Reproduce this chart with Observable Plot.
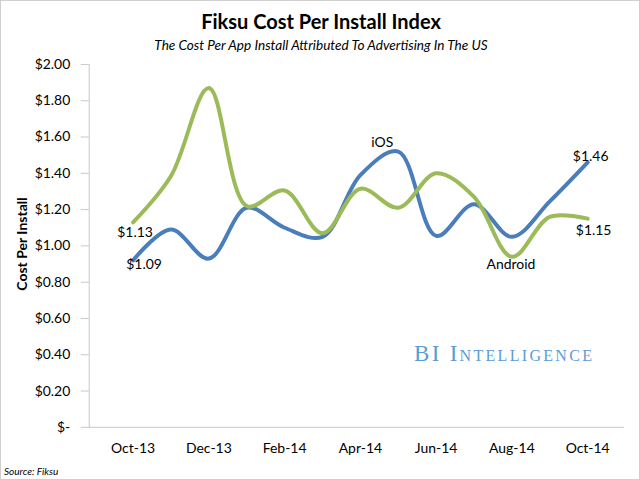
<!DOCTYPE html>
<html>
<head>
<meta charset="utf-8">
<script src="https://cdn.jsdelivr.net/npm/d3@7"></script>
<script src="https://cdn.jsdelivr.net/npm/@observablehq/plot@0.6"></script>
<style>
  html, body { margin: 0; padding: 0; background: #fff; }
  #wrap { position: relative; width: 640px; height: 480px; box-sizing: border-box; border: 1px solid #cfcfcf; overflow: hidden; font-family: Lato, sans-serif; }
  #title { position: absolute; left: 0; width: 640px; top: 8px; text-align: center; font-weight: bold; font-size: 20px; color: #000; }
  #subtitle { position: absolute; left: 0; width: 640px; top: 36px; text-align: center; font-style: italic; font-size: 13.6px; color: #000; }
  #chart { position: absolute; left: 0; top: 50px; }
  #logo { position: absolute; left: 413px; top: 340px; font-family: "Liberation Serif", serif; font-variant: small-caps; font-size: 23px; color: #5b9bd5; letter-spacing: 2.3px; }
  #source { position: absolute; left: 3px; top: 464px; font-style: italic; font-size: 10px; color: #000; }
  #ytitle { position: absolute; left: 20px; top: 243px; transform: translate(-50%, -50%) rotate(-90deg); font-weight: bold; font-size: 14px; white-space: nowrap; }
</style>
</head>
<body>
<div id="wrap">
  <div id="title">Fiksu Cost Per Install Index</div>
  <div id="subtitle">The Cost Per App Install Attributed To Advertising In The US</div>
  <div id="ytitle">Cost Per Install</div>
  <div id="chart"></div>
  <div id="logo">BI Intelligence</div>
  <div id="source">Source: Fiksu</div>
</div>
<script>
const months = ["Oct-13","Nov-13","Dec-13","Jan-14","Feb-14","Mar-14","Apr-14","May-14","Jun-14","Jul-14","Aug-14","Sep-14","Oct-14"];
const xTicks = ["Oct-13","Dec-13","Feb-14","Apr-14","Jun-14","Aug-14","Oct-14"];
const iosValues = [0.92,1.09,0.93,1.21,1.10,1.05,1.39,1.52,1.055,1.23,1.05,1.245,1.46];
const androidValues = [1.13,1.385,1.87,1.22,1.305,1.07,1.315,1.21,1.40,1.27,0.94,1.16,1.15];
const yTicks = [0,0.2,0.4,0.6,0.8,1.0,1.2,1.4,1.6,1.8,2.0];
const seriesNames = ["iOS","Android"];
const seriesColors = ["#4a7ebb","#9bbb59"];

// annotation labels: [text, month, value, dx, dy]
const labelTexts = ["$1.13","$1.09","$1.46","$1.15","iOS","Android"];
const labelMonths = ["Oct-13","Oct-13","Oct-14","Oct-14","May-14","Aug-14"];
const labelValues = [androidValues[0], iosValues[0], iosValues[12], androidValues[12], iosValues[7], androidValues[10]];
const labelDx = [2, 11, 3, 6, -16, -1];
const labelDy = [10, 4, -6, 12, -9, 8];

const rows = [];
months.forEach((m, i) => {
  rows.push({month: m, value: iosValues[i], series: "iOS"});
});
months.forEach((m, i) => {
  rows.push({month: m, value: androidValues[i], series: "Android"});
});

const labels = labelTexts.map((t, i) => ({text: t, month: labelMonths[i], value: labelValues[i], dx: labelDx[i], dy: labelDy[i]}));

const fmt = v => v === 0 ? "$-" : "$" + v.toFixed(2);

const plot = Plot.plot({
  width: 640,
  height: 430,
  marginTop: 13,
  marginBottom: 53,
  marginLeft: 88,
  marginRight: 15,
  style: {fontFamily: "Lato, sans-serif", fontSize: "14px", color: "#000", background: "transparent"},
  x: {type: "point", domain: months, range: [108, 612]},
  y: {domain: [0, 2]},
  color: {domain: seriesNames, range: seriesColors},
  marks: [
    Plot.frame({anchor: "left", stroke: "#c8c8c8"}),
    Plot.ruleY([0], {stroke: "#c8c8c8"}),
    Plot.axisY({ticks: yTicks, tickFormat: fmt, tickSize: 8, tickPadding: 11, stroke: "#c8c8c8", fill: "#000", label: null, fontSize: 14}),
    Plot.axisX({ticks: xTicks, tickSize: 0, tickPadding: 16, label: null, fontSize: 14}),
    Plot.line(rows, {x: "month", y: "value", stroke: "series", z: "series", curve: "catmull-rom", strokeWidth: 4, strokeLinecap: "round", strokeLinejoin: "round"}),
    ...labels.map(l => Plot.text([l], {x: "month", y: "value", text: "text", dx: l.dx, dy: l.dy, fontSize: 14, fill: "#000"}))
  ]
});
document.getElementById("chart").appendChild(plot);
</script>
</body>
</html>
